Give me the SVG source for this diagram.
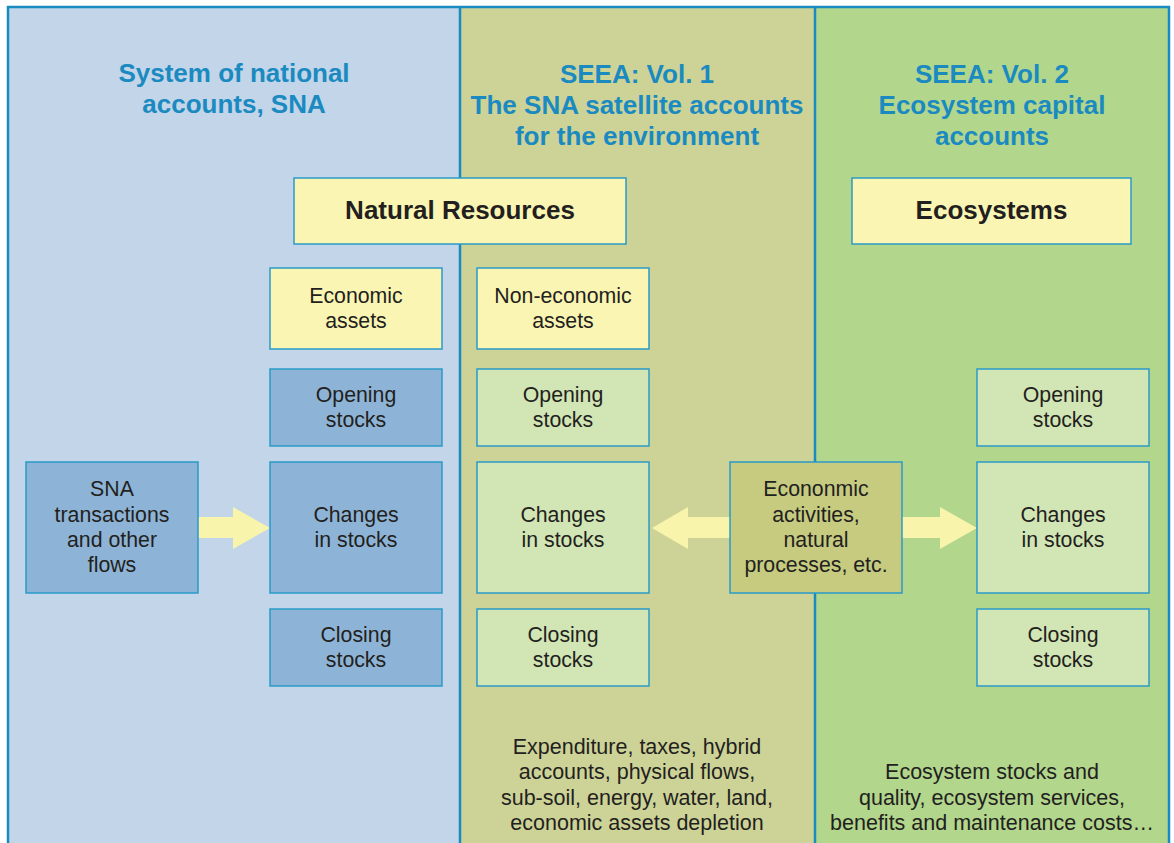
<svg xmlns="http://www.w3.org/2000/svg" width="1174" height="843" viewBox="0 0 1174 843">
<style>
.title{font-family:"Liberation Sans",Arial,sans-serif;font-weight:bold;font-size:26px;fill:#1a8ac0;text-anchor:middle}
.head{font-family:"Liberation Sans",Arial,sans-serif;font-weight:bold;font-size:26px;fill:#231f20;text-anchor:middle}
.lbl{font-family:"Liberation Sans",Arial,sans-serif;font-size:21.3px;fill:#231f20;text-anchor:middle}
.note{font-family:"Liberation Sans",Arial,sans-serif;font-size:21.5px;fill:#231f20;text-anchor:middle}
.box{stroke:#2a9ac8;stroke-width:1.5}
.y{fill:#faf5b2}.b{fill:#8db4d6}.g{fill:#d2e5b5}.o{fill:#c6cb80}
.arrow{fill:#f8f4ab}
</style>
<rect width="1174" height="843" fill="#ffffff"/>
<g id="panels">
<rect x="8" y="7" width="452" height="850" fill="#c2d5e9"/>
<rect x="460" y="7" width="355" height="850" fill="#cdd397"/>
<rect x="815" y="7" width="354" height="850" fill="#b2d68c"/>
<rect x="8" y="7" width="1161" height="850" fill="none" stroke="#1a8bc0" stroke-width="2.5"/>
<line x1="460" y1="7" x2="460" y2="843" stroke="#1a8bc0" stroke-width="2.5"/>
<line x1="815" y1="7" x2="815" y2="843" stroke="#1a8bc0" stroke-width="2.5"/>
</g>
<g id="titles">
<text class="title" x="234" y="82">System of national</text>
<text class="title" x="234" y="113">accounts, SNA</text>
<text class="title" x="637" y="83">SEEA: Vol. 1</text>
<text class="title" x="637" y="114">The SNA satellite accounts</text>
<text class="title" x="637" y="145">for the environment</text>
<text class="title" x="992" y="83">SEEA: Vol. 2</text>
<text class="title" x="992" y="114">Ecosystem capital</text>
<text class="title" x="992" y="145">accounts</text>
</g>
<g id="connectors">
<polygon class="arrow" points="198,517 233,517 233,507 270,528 233,549 233,538 198,538"/>
<polygon class="arrow" points="730,517 688,517 688,507 652,528 688,549 688,538 730,538"/>
<polygon class="arrow" points="902,517 940,517 940,507 977,528 940,549 940,538 902,538"/>
</g>
<g id="natural-resources"><rect class="box y" x="294" y="178" width="332" height="66"/><text class="head" x="460" y="219">Natural Resources</text></g>
<g id="ecosystems"><rect class="box y" x="852" y="178" width="279" height="66"/><text class="head" x="991.5" y="219">Ecosystems</text></g>
<g id="economic-assets"><rect class="box y" x="270" y="268" width="172" height="81"/><text class="lbl" x="356" y="303">Economic</text><text class="lbl" x="356" y="328">assets</text></g>
<g id="sna-opening"><rect class="box b" x="270" y="369" width="172" height="77"/><text class="lbl" x="356" y="402">Opening</text><text class="lbl" x="356" y="427">stocks</text></g>
<g id="sna-changes"><rect class="box b" x="270" y="462" width="172" height="131"/><text class="lbl" x="356" y="522">Changes</text><text class="lbl" x="356" y="547">in stocks</text></g>
<g id="sna-closing"><rect class="box b" x="270" y="609" width="172" height="77"/><text class="lbl" x="356" y="642">Closing</text><text class="lbl" x="356" y="667">stocks</text></g>
<g id="sna-transactions"><rect class="box b" x="26" y="462" width="172" height="131"/><text class="lbl" x="112" y="496">SNA</text><text class="lbl" x="112" y="522">transactions</text><text class="lbl" x="112" y="547">and other</text><text class="lbl" x="112" y="572">flows</text></g>
<g id="non-economic-assets"><rect class="box y" x="477" y="268" width="172" height="81"/><text class="lbl" x="563" y="303">Non-economic</text><text class="lbl" x="563" y="328">assets</text></g>
<g id="v1-opening"><rect class="box g" x="477" y="369" width="172" height="77"/><text class="lbl" x="563" y="402">Opening</text><text class="lbl" x="563" y="427">stocks</text></g>
<g id="v1-changes"><rect class="box g" x="477" y="462" width="172" height="131"/><text class="lbl" x="563" y="522">Changes</text><text class="lbl" x="563" y="547">in stocks</text></g>
<g id="v1-closing"><rect class="box g" x="477" y="609" width="172" height="77"/><text class="lbl" x="563" y="642">Closing</text><text class="lbl" x="563" y="667">stocks</text></g>
<g id="economic-activities"><rect class="box o" x="730" y="462" width="172" height="131"/><text class="lbl" x="816" y="496">Econonmic</text><text class="lbl" x="816" y="522">activities,</text><text class="lbl" x="816" y="547">natural</text><text class="lbl" x="816" y="572">processes, etc.</text></g>
<g id="v2-opening"><rect class="box g" x="977" y="369" width="172" height="77"/><text class="lbl" x="1063" y="402">Opening</text><text class="lbl" x="1063" y="427">stocks</text></g>
<g id="v2-changes"><rect class="box g" x="977" y="462" width="172" height="131"/><text class="lbl" x="1063" y="522">Changes</text><text class="lbl" x="1063" y="547">in stocks</text></g>
<g id="v2-closing"><rect class="box g" x="977" y="609" width="172" height="77"/><text class="lbl" x="1063" y="642">Closing</text><text class="lbl" x="1063" y="667">stocks</text></g>
<g id="v1-notes">
<text class="note" x="637" y="754">Expenditure, taxes, hybrid</text>
<text class="note" x="637" y="779">accounts, physical flows,</text>
<text class="note" x="637" y="805">sub-soil, energy, water, land,</text>
<text class="note" x="637" y="830">economic assets depletion</text>
</g>
<g id="v2-notes">
<text class="note" x="992" y="779">Ecosystem stocks and</text>
<text class="note" x="992" y="805">quality, ecosystem services,</text>
<text class="note" x="992" y="830">benefits and maintenance costs…</text>
</g>
</svg>
